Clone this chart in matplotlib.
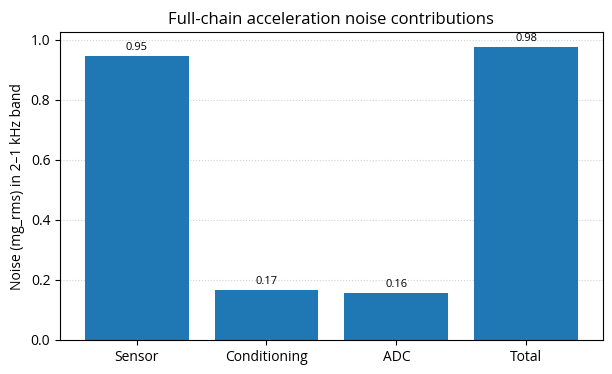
import matplotlib

matplotlib.use("Agg")
import matplotlib.pyplot as plt

categories = ["Sensor", "Conditioning", "ADC", "Total"]
values = [0.947, 0.166, 0.156, 0.976]

plt.rcParams["font.family"] = ["Open Sans", "DejaVu Sans"]

fig, ax = plt.subplots(figsize=(6.12, 3.74), dpi=100)
bars = ax.bar(categories, values, color="#1f77b4")
for b, v in zip(bars, values):
    ax.annotate(f"{v:.2f}", (b.get_x() + b.get_width() / 2, v),
                xytext=(0, 2), textcoords="offset points",
                ha="center", va="bottom", fontsize=8)
ax.set_ylim(0, max(values) * 1.05)
ax.set_ylabel("Noise (mg_rms) in 2\u20131 kHz band", fontsize=10)
ax.set_title("Full-chain acceleration noise contributions", fontsize=12)
ax.grid(axis="y", ls=":", alpha=0.6)
ax.set_axisbelow(True)
ax.tick_params(labelsize=10)

fig.subplots_adjust(left=0.098, right=0.985, top=0.914, bottom=0.091)
fig.savefig("out.png", dpi=100)
plt.close(fig)
